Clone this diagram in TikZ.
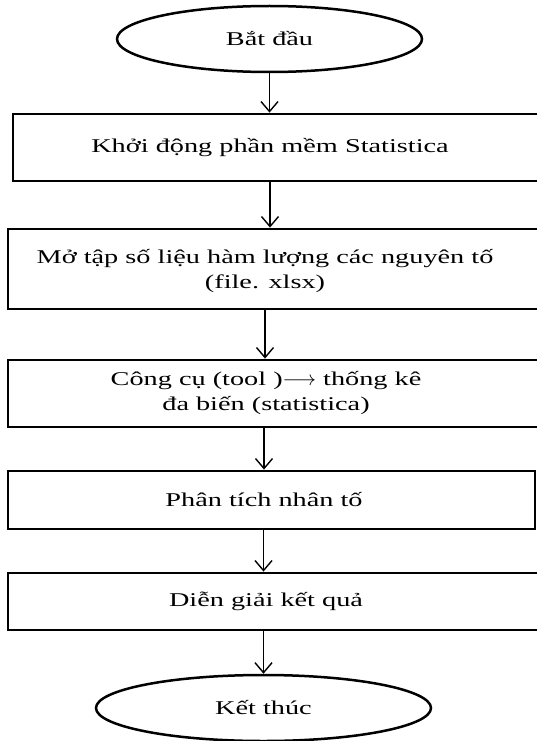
\documentclass[tikz,border=0pt]{standalone}
\usepackage{fontspec}
\setmainfont{Liberation Serif}[FakeStretch=1.45]
\usetikzlibrary{arrows.meta,shapes.geometric}
\tikzset{
	stepbox/.style={draw, line width=2.8pt, rectangle, minimum width=560pt},
	endbox/.style={draw, line width=2.5pt, ellipse, inner sep=0pt},
	steptext/.style={align=center, font=\fontsize{19.5}{25}\selectfont},
	flow/.style={line width=1.4pt, -{Straight Barb[length=10pt,width=17pt]}}
}

\begin{document}
\begin{tikzpicture}[x=1pt, y=-1pt]
			%%%%% START %%%%%
			
			\useasboundingbox (0, 0) rectangle (537, 741);
			\clip (0, 0) rectangle (537, 741);
			
			\node[endbox, steptext, minimum width=305pt, minimum height=66pt] (start) at (269.5, 39) {Bắt đầu};
			
			\node[stepbox, minimum height=67pt, label={[steptext, name=launchtext, xshift=-23pt]center:Khởi động phần mềm Statistica}] (launch) at (293, 147.5) {};
			\node[stepbox, minimum height=80pt, label={[steptext, name=opentext, xshift=-23pt, yshift=-2pt]center:Mở tập số liệu hàm lượng các nguyên tố\\(file. xlsx)}] (open) at (288, 269) {};
			\node[stepbox, minimum height=67pt, label={[steptext, name=tooltext, xshift=-22pt]center:Công cụ (tool )\ensuremath{\longrightarrow} thống kê\\đa biến (statistica)}] (tool) at (288, 393.5) {};
			\node[stepbox, minimum width=527pt, minimum height=58pt, label={[steptext, name=factortext, xshift=-7.5pt]center:Phân tích nhân tố}] (factor) at (271.5, 500) {};
			\node[stepbox, minimum height=57pt, label={[steptext, name=resulttext, xshift=-22pt]center:Diễn giải kết quả}] (result) at (288, 601.5) {};
			
			\node[endbox, steptext, minimum width=335pt, minimum height=66pt] (finish) at (263.5, 708) {Kết thúc};
			
			\draw[flow] (start) -- (start |- launch.north);
			\draw[flow] (launchtext |- launch.south) -- (launchtext |- open.north);
			\draw[flow] (opentext |- open.south) -- (opentext |- tool.north);
			\draw[flow] (factortext |- tool.south) -- (factortext |- factor.north);
			\draw[flow] (finish |- factor.south) -- (finish |- result.north);
			\draw[flow] (finish |- result.south) -- (finish);
			
			%%%%% END %%%%%
\end{tikzpicture}
\end{document}
